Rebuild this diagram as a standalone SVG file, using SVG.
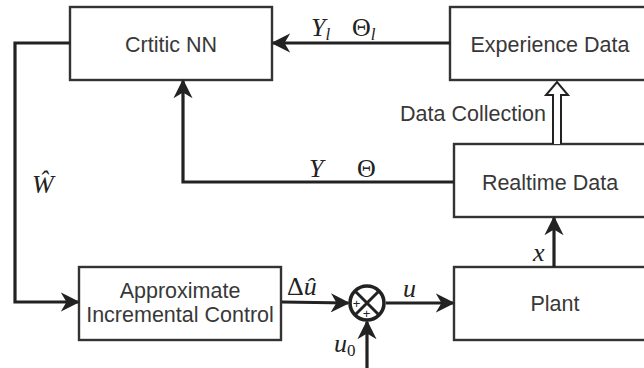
<svg xmlns="http://www.w3.org/2000/svg" width="644" height="368" viewBox="0 0 644 368">
<defs>
<style>
.box{fill:#fff;stroke:#333;stroke-width:2.4}
.lbl{font-family:"Liberation Sans",Arial,sans-serif;font-size:21.5px;fill:#383838;text-anchor:middle}
.wire{fill:none;stroke:#222;stroke-width:3.2}
.m{font-family:"Liberation Serif","DejaVu Serif",serif;font-size:26px;fill:#222}
.mi{font-style:italic}
</style>
<marker id="ah" viewBox="0 0 10 10" refX="9" refY="5" markerWidth="6" markerHeight="6" markerUnits="strokeWidth" orient="auto">
<path d="M0,0 L10,5 L0,10 L3,5 Z" fill="#222"/>
</marker>
</defs>
<rect width="644" height="368" fill="#fff"/>
<g id="critic"><rect class="box" x="70" y="7" width="202" height="73"/><text class="lbl" x="171" y="52">Crtitic NN</text></g>
<g id="experience"><rect class="box" x="450" y="7" width="210" height="73"/><text class="lbl" x="550" y="52">Experience Data</text></g>
<g id="realtime"><rect class="box" x="454" y="144" width="206" height="73"/><text class="lbl" x="550" y="190">Realtime Data</text></g>
<g id="plant"><rect class="box" x="454" y="267" width="206" height="73"/><text class="lbl" x="555" y="311">Plant</text></g>
<g id="aic"><rect class="box" x="79" y="267" width="202" height="73"/><text class="lbl" x="180" y="298">Approximate</text><text class="lbl" x="180" y="322">Incremental Control</text></g>
<g id="sum"><circle cx="367" cy="303" r="17" fill="#fff" stroke="#222" stroke-width="3.6"/><path d="M355,291 L379,315 M379,291 L355,315" stroke="#222" stroke-width="3"/><text x="356.5" y="307.5" font-family="Liberation Sans,sans-serif" font-size="13" fill="#222" text-anchor="middle">+</text><text x="366.5" y="318" font-family="Liberation Sans,sans-serif" font-size="13" fill="#222" text-anchor="middle">+</text></g>
<g id="connectors">
<path class="wire" d="M450,43 L273,43" marker-end="url(#ah)"/>
<path class="wire" d="M454,182 L183,182 L183,81" marker-end="url(#ah)"/>
<path class="wire" d="M70,43 L15,43 L15,302 L78,302" marker-end="url(#ah)"/>
<path class="wire" d="M282,302 L348,303" marker-end="url(#ah)"/>
<path class="wire" d="M386,303 L453,303" marker-end="url(#ah)"/>
<path class="wire" d="M367,368 L367,322" marker-end="url(#ah)"/>
<path class="wire" d="M554,267 L554,218" marker-end="url(#ah)"/>
<path d="M553,144 L553,95 L546,95 L557,82 L568,95 L561,95 L561,144" fill="#fff" stroke="#222" stroke-width="2"/>
</g>
<g id="labels">
<text class="m" x="311" y="36"><tspan class="mi">Y</tspan><tspan class="mi" font-size="17" dy="4">l</tspan></text>
<text class="m" x="352" y="36">Θ<tspan class="mi" font-size="17" dy="4">l</tspan></text>
<text class="m mi" x="309" y="177">Y</text>
<text class="m" x="357" y="177">Θ</text>
<text class="lbl" x="473" y="121">Data Collection</text>
<text class="m mi" x="32" y="193">Ŵ</text>
<text class="m" x="287" y="295">Δ<tspan class="mi">û</tspan></text>
<text class="m mi" x="403" y="297">u</text>
<text class="m" x="334" y="352"><tspan class="mi">u</tspan><tspan font-size="17" dy="4">0</tspan></text>
<text class="m mi" x="533" y="261">x</text>
</g>
</svg>
